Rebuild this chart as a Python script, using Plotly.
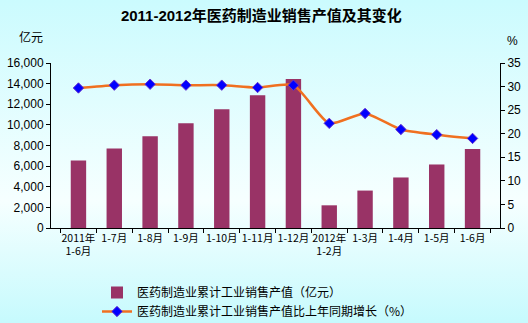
import base64
import plotly.graph_objects as go

categories = ["2011年<br>1-6月", "1-7月", "1-8月", "1-9月", "1-10月", "1-11月", "1-12月",
              "2012年<br>1-2月", "1-3月", "1-4月", "1-5月", "1-6月"]
sales = [6550, 7720, 8890, 10150, 11520, 12880, 14440, 2200, 3630, 4900, 6160, 7650]
growth = [29.7, 30.3, 30.5, 30.3, 30.3, 29.8, 30.3, 22.2, 24.3, 20.9, 19.8, 19.0]

bar_name = "医药制造业累计工业销售产值（亿元）"
line_name = "医药制造业累计工业销售产值比上年同期增长（%）"

W, H = 528, 323
L, R, T, B = 51, 28, 63, 95
pw, ph = W - L - R, H - T - B

svg = ('<svg xmlns="http://www.w3.org/2000/svg" width="528" height="323" preserveAspectRatio="none">'
       '<defs><linearGradient id="g" x1="0" y1="0" x2="0" y2="1">'
       '<stop offset="0" stop-color="#cbfbfe"/><stop offset="0.62" stop-color="#f6ffff"/>'
       '<stop offset="1" stop-color="#c6fafd"/></linearGradient></defs>'
       '<rect width="528" height="323" fill="url(#g)"/></svg>')
bg = "data:image/svg+xml;base64," + base64.b64encode(svg.encode()).decode()

fig = go.Figure()
fig.add_trace(go.Bar(x=categories, y=sales, name=bar_name, marker_color="#993366",
                     marker_line_width=0))
fig.add_trace(go.Scatter(x=categories, y=growth, name=line_name, yaxis="y2",
                         mode="lines+markers", line=dict(color="#f07020", width=2.5, shape="spline", smoothing=0.6),
                         marker=dict(symbol="diamond", size=8, color="#0000ff",
                                     line=dict(color="#6633cc", width=1))))

fig.update_layout(
    width=W, height=H,
    margin=dict(l=L, r=R, t=T, b=B, autoexpand=False),
    paper_bgcolor="#e8fdff", plot_bgcolor="rgba(0,0,0,0)",
    images=[dict(source=bg, xref="paper", yref="paper", x=-L / pw, y=1 + T / ph,
                 sizex=W / pw, sizey=H / ph, sizing="stretch", layer="below",
                 xanchor="left", yanchor="top")],
    font=dict(family="Liberation Sans, Arial, sans-serif", size=12, color="#000"),
    title=dict(text="<b>2011-2012年医药制造业销售产值及其变化</b>", x=0.495, xref="container",
               xanchor="center", y=1 - 16 / H, yanchor="middle",
               font=dict(family="Liberation Sans, Noto Sans CJK SC", size=15, color="#000")),
    bargap=0.57,
    showlegend=True,
    legend=dict(orientation="v", x=97 / W, xref="container", xanchor="left",
                y=1 - 278 / H, yref="container", yanchor="top",
                bgcolor="rgba(0,0,0,0)", font=dict(family="Noto Sans CJK SC", size=12),
                itemwidth=30, tracegroupgap=0, traceorder="normal"),
    xaxis=dict(type="category", tickson="boundaries", showline=True, linecolor="#000", linewidth=1,
               ticks="outside", ticklen=4, tickcolor="#000", tickangle=0, automargin=False,
               tickfont=dict(family="Noto Sans CJK SC", size=10.5), showgrid=False, mirror=False),
    yaxis=dict(range=[0, 16000], dtick=2000, tickformat=",d", showline=True, linecolor="#000",
               ticks="outside", ticklen=4, tickcolor="#000", showgrid=False, zeroline=False,
               automargin=False),
    yaxis2=dict(range=[0, 35], dtick=5, overlaying="y", side="right", showline=True, linecolor="#000",
                ticks="outside", ticklen=4, tickcolor="#000", showgrid=False, zeroline=False,
                automargin=False),
    annotations=[
        dict(text="亿元", xref="paper", yref="paper", x=-0.045, y=1 + 27 / ph, showarrow=False,
             font=dict(family="Noto Sans CJK SC", size=12), xanchor="center", yanchor="middle"),
        dict(text="%", xref="paper", yref="paper", x=1 + 5 / pw, y=1 + 22 / ph, showarrow=False,
             font=dict(family="Liberation Sans", size=12), xanchor="left", yanchor="middle"),
    ],
)

fig.write_html("out.html")
